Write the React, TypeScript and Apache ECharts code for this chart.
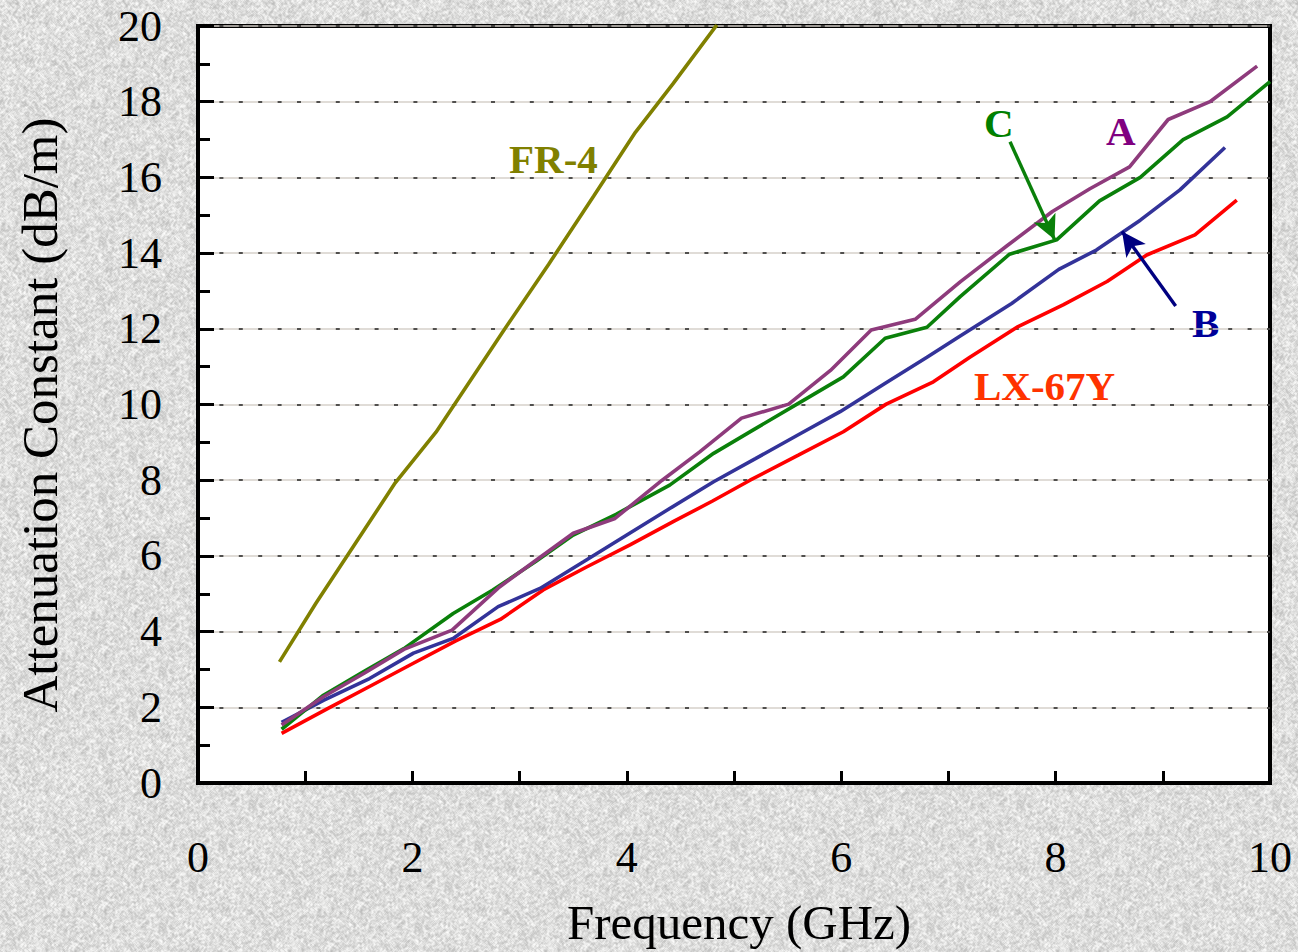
import React, { useEffect, useRef } from "react";
import * as echarts from "echarts";

// Frequency (GHz) and attenuation constant (dB/m)
const freqFR4 = [0.76, 1.1, 1.84, 2.22, 2.85, 3.27, 3.69, 4.08, 4.43, 4.84];
const attFR4 = [3.2, 4.75, 7.93, 9.27, 11.95, 13.7, 15.5, 17.19, 18.47, 20.03];

const freqA = [0.78, 1.17, 1.55, 1.92, 2.37, 2.8, 3.15, 3.5, 3.89, 4.33, 4.68, 5.07, 5.51, 5.9, 6.28, 6.69, 7.11, 7.55, 7.97, 8.32, 8.69, 9.05, 9.44, 9.88];
const attA = [1.53, 2.28, 2.9, 3.53, 4.04, 5.15, 5.88, 6.6, 6.99, 8.0, 8.75, 9.64, 10.01, 10.9, 11.97, 12.25, 13.24, 14.2, 15.1, 15.7, 16.28, 17.53, 18.0, 18.94];

const freqC = [0.78, 1.17, 1.55, 1.92, 2.38, 2.75, 3.15, 3.5, 3.9, 4.4, 4.81, 5.18, 5.6, 6.02, 6.41, 6.8, 7.11, 7.57, 8.01, 8.41, 8.79, 9.19, 9.6, 10.0];
const attC = [1.42, 2.32, 2.95, 3.55, 4.48, 5.1, 5.85, 6.55, 7.1, 7.87, 8.71, 9.33, 10.03, 10.73, 11.75, 12.04, 12.85, 13.97, 14.35, 15.38, 16.0, 17.0, 17.6, 18.53];

const freqB = [0.78, 1.17, 1.6, 2.01, 2.38, 2.8, 3.19, 3.6, 4.0, 4.4, 4.81, 5.2, 5.6, 5.99, 6.4, 6.8, 7.11, 7.59, 8.03, 8.38, 8.79, 9.16, 9.58];
const attB = [1.6, 2.18, 2.76, 3.43, 3.82, 4.66, 5.14, 5.85, 6.55, 7.25, 7.96, 8.57, 9.2, 9.81, 10.54, 11.25, 11.81, 12.67, 13.57, 14.08, 14.87, 15.67, 16.79];

const freqLX = [0.78, 1.2, 1.6, 2.0, 2.4, 2.82, 3.22, 3.62, 4.03, 4.45, 4.8, 5.15, 5.6, 6.02, 6.42, 6.86, 7.2, 7.65, 8.07, 8.48, 8.85, 9.3, 9.69];
const attLX = [1.31, 1.95, 2.55, 3.15, 3.75, 4.32, 5.1, 5.7, 6.29, 6.93, 7.45, 8.0, 8.66, 9.28, 10.01, 10.6, 11.25, 12.06, 12.63, 13.25, 13.95, 14.48, 15.4];

// Arrow endpoints [freq, att]
const arrowC = [[7.575, 16.94], [7.99, 14.36]];
const arrowB = [[9.12, 12.6], [8.62, 14.57]];

const xTicks = [0, 2, 4, 6, 8, 10];

const zip = (xs: number[], ys: number[]) => xs.map((x, i) => [x, ys[i]]);

const SERIF = "'Liberation Serif', 'Times New Roman', serif";

// decorative granite-like background texture (deterministic hash noise)
function makeTexture(): string {
  const c = document.createElement("canvas");
  const w = 256, h = 256;
  c.width = w;
  c.height = h;
  const ctx = c.getContext("2d");
  if (!ctx) return "";
  const img = ctx.createImageData(w, h);
  let s = 12345;
  const rnd = () => {
    s = (s * 1103515245 + 12345) & 0x7fffffff;
    return s / 0x7fffffff;
  };
  const base: number[] = [];
  for (let i = 0; i < w * h; i++) base.push(rnd());
  for (let y = 0; y < h; y++) {
    for (let x = 0; x < w; x++) {
      let sum = 0;
      for (let dy = -1; dy <= 1; dy++)
        for (let dx = -1; dx <= 1; dx++)
          sum += base[((y + dy + h) % h) * w + ((x + dx + w) % w)];
      const v = sum / 9;
      const g = Math.max(0, Math.min(255, Math.round(222 + (v - 0.5) * 75 + (base[y * w + x] - 0.5) * 22)));
      const k = (y * w + x) * 4;
      img.data[k] = g;
      img.data[k + 1] = g;
      img.data[k + 2] = g - 1;
      img.data[k + 3] = 255;
    }
  }
  ctx.putImageData(img, 0, 0);
  return c.toDataURL();
}

export default function App() {
  const ref = useRef<HTMLDivElement>(null);
  const bgRef = useRef<HTMLDivElement>(null);
  useEffect(() => {
    if (!ref.current) return;
    if (bgRef.current) {
      const url = makeTexture();
      if (url) bgRef.current.style.backgroundImage = `url(${url})`;
    }
    const chart = echarts.init(ref.current, null, { renderer: "svg" });
    const lineSeries = (name: string, data: number[][], color: string, extra: any = {}) => ({
      name,
      type: "line",
      data,
      showSymbol: false,
      symbol: "none",
      clip: true,
      lineStyle: { color, width: 3.6 },
      itemStyle: { color },
      ...extra,
    });
    const arrow = (pts: number[][], color: string) => ({
      silent: true,
      symbol: ["none", "arrow"],
      symbolSize: [18, 24],
      label: { show: false },
      lineStyle: { color, width: 3.4, type: "solid" },
      data: [[{ coord: pts[0] }, { coord: pts[1] }]],
    });
    chart.setOption({
      animation: false,
      backgroundColor: "transparent",
      grid: {
        left: 198,
        top: 26,
        width: 1072,
        height: 757,
        show: true,
        backgroundColor: "#ffffff",
        borderColor: "#000",
        borderWidth: 4,
      },
      xAxis: {
        type: "value",
        min: 0,
        max: 10,
        interval: 1,
        axisLine: { show: true, lineStyle: { color: "#000", width: 4 } },
        axisTick: { show: true, inside: true, length: 12, lineStyle: { color: "#000", width: 3 } },
        axisLabel: {
          margin: 52,
          fontFamily: SERIF,
          fontSize: 44,
          color: "#000",
          formatter: (v: number) => (xTicks.includes(v) ? String(v) : ""),
        },
        splitLine: { show: false },
      },
      yAxis: [
        {
          type: "value",
          min: 0,
          max: 20,
          interval: 2,
          axisLine: { show: true, lineStyle: { color: "#000", width: 4 } },
          axisTick: { show: true, inside: true, length: 16, lineStyle: { color: "#000", width: 3 } },
          minorTick: { show: true, splitNumber: 2, length: 12, lineStyle: { color: "#000", width: 3 } },
          axisLabel: { margin: 36, fontFamily: SERIF, fontSize: 44, color: "#000" },
          splitLine: { show: true, lineStyle: { color: "#d6d0ca", width: 1.5, type: "solid" } },
        },
        {
          type: "value",
          min: 0,
          max: 20,
          interval: 2,
          position: "left",
          axisLine: { show: false },
          axisTick: { show: false },
          axisLabel: { show: false },
          splitLine: { show: true, lineStyle: { color: "#222", width: 1.5, type: [4, 15.4], dashOffset: -2 } },
        },
      ],
      series: [
        lineSeries("FR-4", zip(freqFR4, attFR4), "#808000"),
        lineSeries("LX-67Y", zip(freqLX, attLX), "#ff0000"),
        lineSeries("B", zip(freqB, attB), "#333399", { markLine: arrow(arrowB, "#000080") }),
        lineSeries("C", zip(freqC, attC), "#0a800a", { markLine: arrow(arrowC, "#0a800a") }),
        lineSeries("A", zip(freqA, attA), "#8e3b7c"),
      ],
      graphic: [
        {
          type: "text",
          x: 40,
          y: 415,
          rotation: Math.PI / 2,
          style: {
            text: "Attenuation Constant (dB/m)",
            fill: "#000",
            font: `51px ${SERIF}`,
            align: "center",
            verticalAlign: "middle",
          },
        },
        {
          type: "text",
          x: 739,
          y: 922,
          style: {
            text: "Frequency (GHz)",
            fill: "#000",
            font: `49px ${SERIF}`,
            align: "center",
            verticalAlign: "middle",
          },
        },
        { type: "text", left: 509, top: 138, style: { text: "FR-4", fill: "#808000", font: `bold 41px ${SERIF}` } },
        { type: "text", left: 984, top: 102, style: { text: "C", fill: "#008000", font: `bold 41px ${SERIF}` } },
        { type: "text", left: 1106, top: 110, style: { text: "A", fill: "#800080", font: `bold 41px ${SERIF}` } },
        { type: "text", left: 1192, top: 302, style: { text: "B", fill: "#000099", font: `bold 41px ${SERIF}` } },
        { type: "text", left: 974, top: 365, style: { text: "LX-67Y", fill: "#ff3300", font: `bold 41px ${SERIF}` } },
      ],
    });
    return () => chart.dispose();
  }, []);
  return (
    <div
      ref={bgRef}
      style={{
        position: "fixed",
        left: 0,
        top: 0,
        width: 1298,
        height: 952,
        backgroundColor: "#dcdcdc",
      }}
    >
      <div ref={ref} style={{ width: 1298, height: 952 }} />
    </div>
  );
}
